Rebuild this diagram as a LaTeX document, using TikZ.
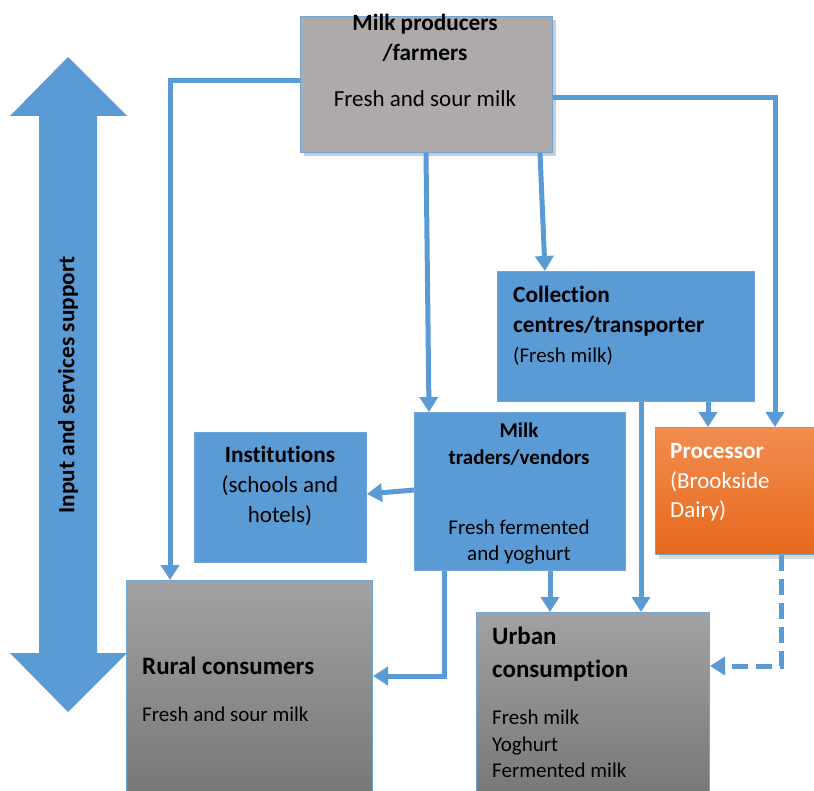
\documentclass[tikz,border=0pt]{standalone}
\usepackage{fontspec}
\setmainfont{Carlito}[Ligatures=NoCommon]
\usetikzlibrary{arrows.meta,shadows}
\definecolor{bl}{HTML}{5B9BD5}
\definecolor{bdr}{HTML}{6FA6DA}
\definecolor{topgray}{HTML}{AEAAAA}
\definecolor{gtop}{HTML}{A2A2A2}
\definecolor{gbot}{HTML}{767676}
\definecolor{otop}{HTML}{F28D50}
\definecolor{obot}{HTML}{E6681B}
\tikzset{
  boxbase/.style={draw=bdr, line width=1pt, inner sep=0pt, anchor=north west},
  bluebox/.style={boxbase, fill=bl},
  graybox/.style={boxbase, top color=gtop, bottom color=gbot},
  prodbox/.style={boxbase, fill=topgray, drop shadow={shadow xshift=3pt,shadow yshift=-4pt,opacity=.4}},
  procbox/.style={boxbase, top color=otop, bottom color=obot, drop shadow={shadow xshift=3pt,shadow yshift=-4pt,opacity=.3}},
  arr/.style={draw=bl, line width=5pt, -{Triangle[width=18pt,length=15pt]}},
  dasharr/.style={arr, dash pattern=on 16pt off 8pt},
  txt/.style={inner sep=0pt, anchor=mid, yshift=-5pt},
  txl/.style={inner sep=0pt, anchor=mid west, yshift=-5pt},
  fA/.style={font=\fontsize{23}{28}\selectfont},
  fAb/.style={font=\fontsize{23.3}{28}\selectfont\bfseries},
  fB/.style={font=\fontsize{21}{25}\selectfont},
  fBb/.style={font=\fontsize{21}{25}\selectfont\bfseries},
  fCb/.style={font=\fontsize{25}{30}\selectfont\bfseries},
}
\begin{document}
\begin{tikzpicture}[x=1pt,y=-1pt]
\useasboundingbox (0,0) rectangle (814,791);
% double arrow
\fill[bl] (68,57) -- (127,116) -- (97,116) -- (97,653) -- (127,653) -- (68,712)
  -- (10,653) -- (39,653) -- (39,116) -- (10,116) -- cycle;
\node[inner sep=0pt, anchor=center, fAb, rotate=90] (lbl) at (68,385) {Input and services support};

% boxes
\node[prodbox, minimum width=252pt, minimum height=136pt] (prod) at (300,16) {};
\node[bluebox, minimum width=257pt, minimum height=130pt] (coll) at (497,271) {};
\node[procbox, minimum width=165pt, minimum height=127pt] (proc) at (655,427) {};
\node[bluebox, minimum width=211pt, minimum height=158pt] (trad) at (414,412) {};
\node[bluebox, minimum width=172pt, minimum height=130pt] (inst) at (194,432) {};
\node[graybox, minimum width=246pt, minimum height=220pt] (rural) at (126,580) {};
\node[graybox, minimum width=233pt, minimum height=190pt] (urban) at (476,612) {};

% texts
\node[txt, fAb] (p1) at (425,23) {Milk producers};
\node[txt, fAb] (p2) at (425,53) {/farmers};
\node[txt, fA] (p3) at (425,99) {Fresh and sour milk};

\node[txl, fAb] (c1) at (513,295) {Collection};
\node[txl, fAb] (c2) at (513,325) {centres/transporter};
\node[txl, fB] (c3) at (513,355) {(Fresh milk)};

\node[txl, fAb, text=white] (r1) at (670,451) {Processor};
\node[txl, fA, text=white] (r2) at (670,481) {(Brookside};
\node[txl, fA, text=white] (r3) at (670,510) {Dairy)};

\node[txt, fBb] (t1) at (519,430) {Milk};
\node[txt, fBb] (t2) at (519,457) {traders/vendors};
\node[txt, fB] (t3) at (519,527) {Fresh fermented};
\node[txt, fB] (t4) at (519,553) {and yoghurt};

\node[txt, fAb] (i1) at (280,455) {Institutions};
\node[txt, fA] (i2) at (280,485) {(schools and};
\node[txt, fA] (i3) at (280,515) {hotels)};

\node[txl, fCb] (u1) at (142,667) {Rural consumers};
\node[txl, fB] (u2) at (142,714) {Fresh and sour milk};

\node[txl, fCb] (v1) at (492,637) {Urban};
\node[txl, fCb] (v2) at (492,670) {consumption};
\node[txl, fB] (v3) at (492,717) {Fresh milk};
\node[txl, fB] (v4) at (492,744) {Yoghurt};
\node[txl, fB] (v5) at (492,770) {Fermented milk};

% connectors
\draw[arr] (prod.west |- 0,81) -| (170,0 |- rural.north);
\draw[arr] (prod.south -| 426,0) -- (trad.north -| 429,0);
\draw[arr] (prod.south -| 540,0) -- (coll.north -| 545,0);
\draw[arr] (prod.east |- 0,98) -| (775,0 |- proc.north);
\draw[arr] (coll.south -| 708,0) -- (proc.north -| 708,0);
\draw[arr] (coll.south -| 641,0) -- (urban.north -| 641,0);
\draw[arr] (trad.west |- 0,490) -- (inst.east |- 0,494);
\draw[arr] (trad.south -| 444,0) |- (rural.east |- 0,676);
\draw[arr] (trad.south -| 550,0) -- (urban.north -| 550,0);
\draw[dasharr] (proc.south -| 781,0) |- (urban.east |- 0,666);
\end{tikzpicture}
\end{document}
